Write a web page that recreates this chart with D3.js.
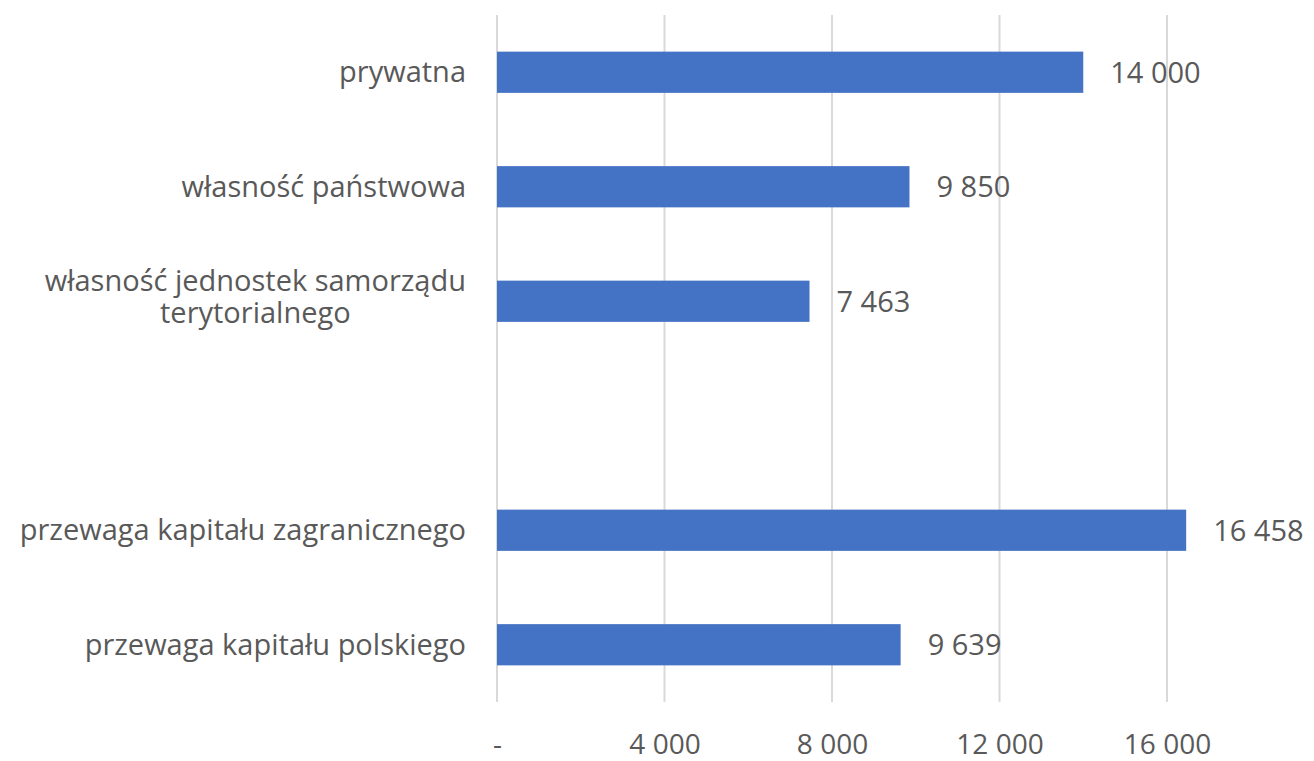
<!DOCTYPE html>
<html>
<head>
<meta charset="utf-8">
<script src="https://cdn.jsdelivr.net/npm/d3@7"></script>
<style>
  body { margin: 0; background: #fff; }
  text { font-family: "Open Sans", "Noto Sans", sans-serif; fill: #595959; }
</style>
</head>
<body>
<svg width="1314" height="761"></svg>
<script>
// categories top to bottom, "" is the empty gap row
var categories = ["prywatna", "własność państwowa", "własność jednostek samorządu|terytorialnego", "", "przewaga kapitału zagranicznego", "przewaga kapitału polskiego"];
var values = [14000, 9850, 7463, null, 16458, 9639];
var tickValues = [0, 4000, 8000, 12000, 16000];
var tickLabels = ["-", "4 000", "8 000", "12 000", "16 000"];

var svg = d3.select("svg"),
    width = +svg.attr("width"),
    height = +svg.attr("height");

var plotLeft = 497, plotTop = 15, plotBottom = 702;

var x = d3.scaleLinear()
  .domain([0, 16000])
  .range([plotLeft, 1167]);

var y = d3.scaleBand()
  .domain(d3.range(categories.length))
  .range([plotTop, plotBottom])
  .paddingInner(0.64)
  .paddingOuter(0.32);

// gridlines
svg.append("g")
  .selectAll("line")
  .data(tickValues)
  .enter()
  .append("line")
    .attr("x1", function(d) { return x(d); })
    .attr("x2", function(d) { return x(d); })
    .attr("y1", plotTop)
    .attr("y2", plotBottom)
    .attr("stroke", "#d9d9d9")
    .attr("stroke-width", 2);

// x axis labels
var xAxis = d3.axisBottom(x)
  .tickValues(tickValues)
  .tickFormat(function(d, i) { return tickLabels[i]; })
  .tickSize(0)
  .tickPadding(0);

var ax = svg.append("g")
  .attr("transform", "translate(0," + 754 + ")")
  .call(xAxis);
ax.select(".domain").remove();
ax.selectAll("text")
  .attr("y", 0)
  .attr("dy", 0)
  .style("font-size", "28px")
  .style("font-family", "'Open Sans', sans-serif")
  .attr("fill", "#595959");

var rows = categories.map(function(c, i) { return {cat: c, val: values[i], i: i}; });

// bars
svg.append("g")
  .selectAll("rect")
  .data(rows.filter(function(d) { return d.val != null; }))
  .enter()
  .append("rect")
    .attr("x", x(0))
    .attr("y", function(d) { return y(d.i); })
    .attr("width", function(d) { return x(d.val) - x(0); })
    .attr("height", y.bandwidth())
    .attr("fill", "#4472c4");

// value labels
svg.append("g")
  .selectAll("text")
  .data(rows.filter(function(d) { return d.val != null; }))
  .enter()
  .append("text")
    .attr("x", function(d) { return x(d.val) + 27; })
    .attr("y", function(d) { return y(d.i) + y.bandwidth() / 2; })
    .attr("dy", "0.36em")
    .style("font-size", "29px")
    .text(function(d) { return d3.format(",")(d.val).replace(/,/g, " "); });

// category labels
var labels = svg.append("g")
  .selectAll("text")
  .data(rows.filter(function(d) { return d.cat != ""; }))
  .enter()
  .append("text")
    .style("font-size", "29px")
    .attr("y", function(d) { return y(d.i) + y.bandwidth() / 2; });

labels.each(function(d) {
  var t = d3.select(this);
  var lines = d.cat.split("|");
  if (lines.length == 1) {
    t.attr("x", 466).attr("text-anchor", "end").attr("dy", "0.35em").text(lines[0]);
  } else {
    // measure the first line to center the lines under each other
    t.text(lines[0]);
    var w = this.getComputedTextLength();
    t.text(null);
    var cx = 466 - w / 2;
    t.attr("text-anchor", "middle");
    lines.forEach(function(l, k) {
      t.append("tspan")
        .attr("x", cx)
        .attr("dy", k == 0 ? -10 : 32)
        .text(l);
    });
  }
});
</script>
</body>
</html>
